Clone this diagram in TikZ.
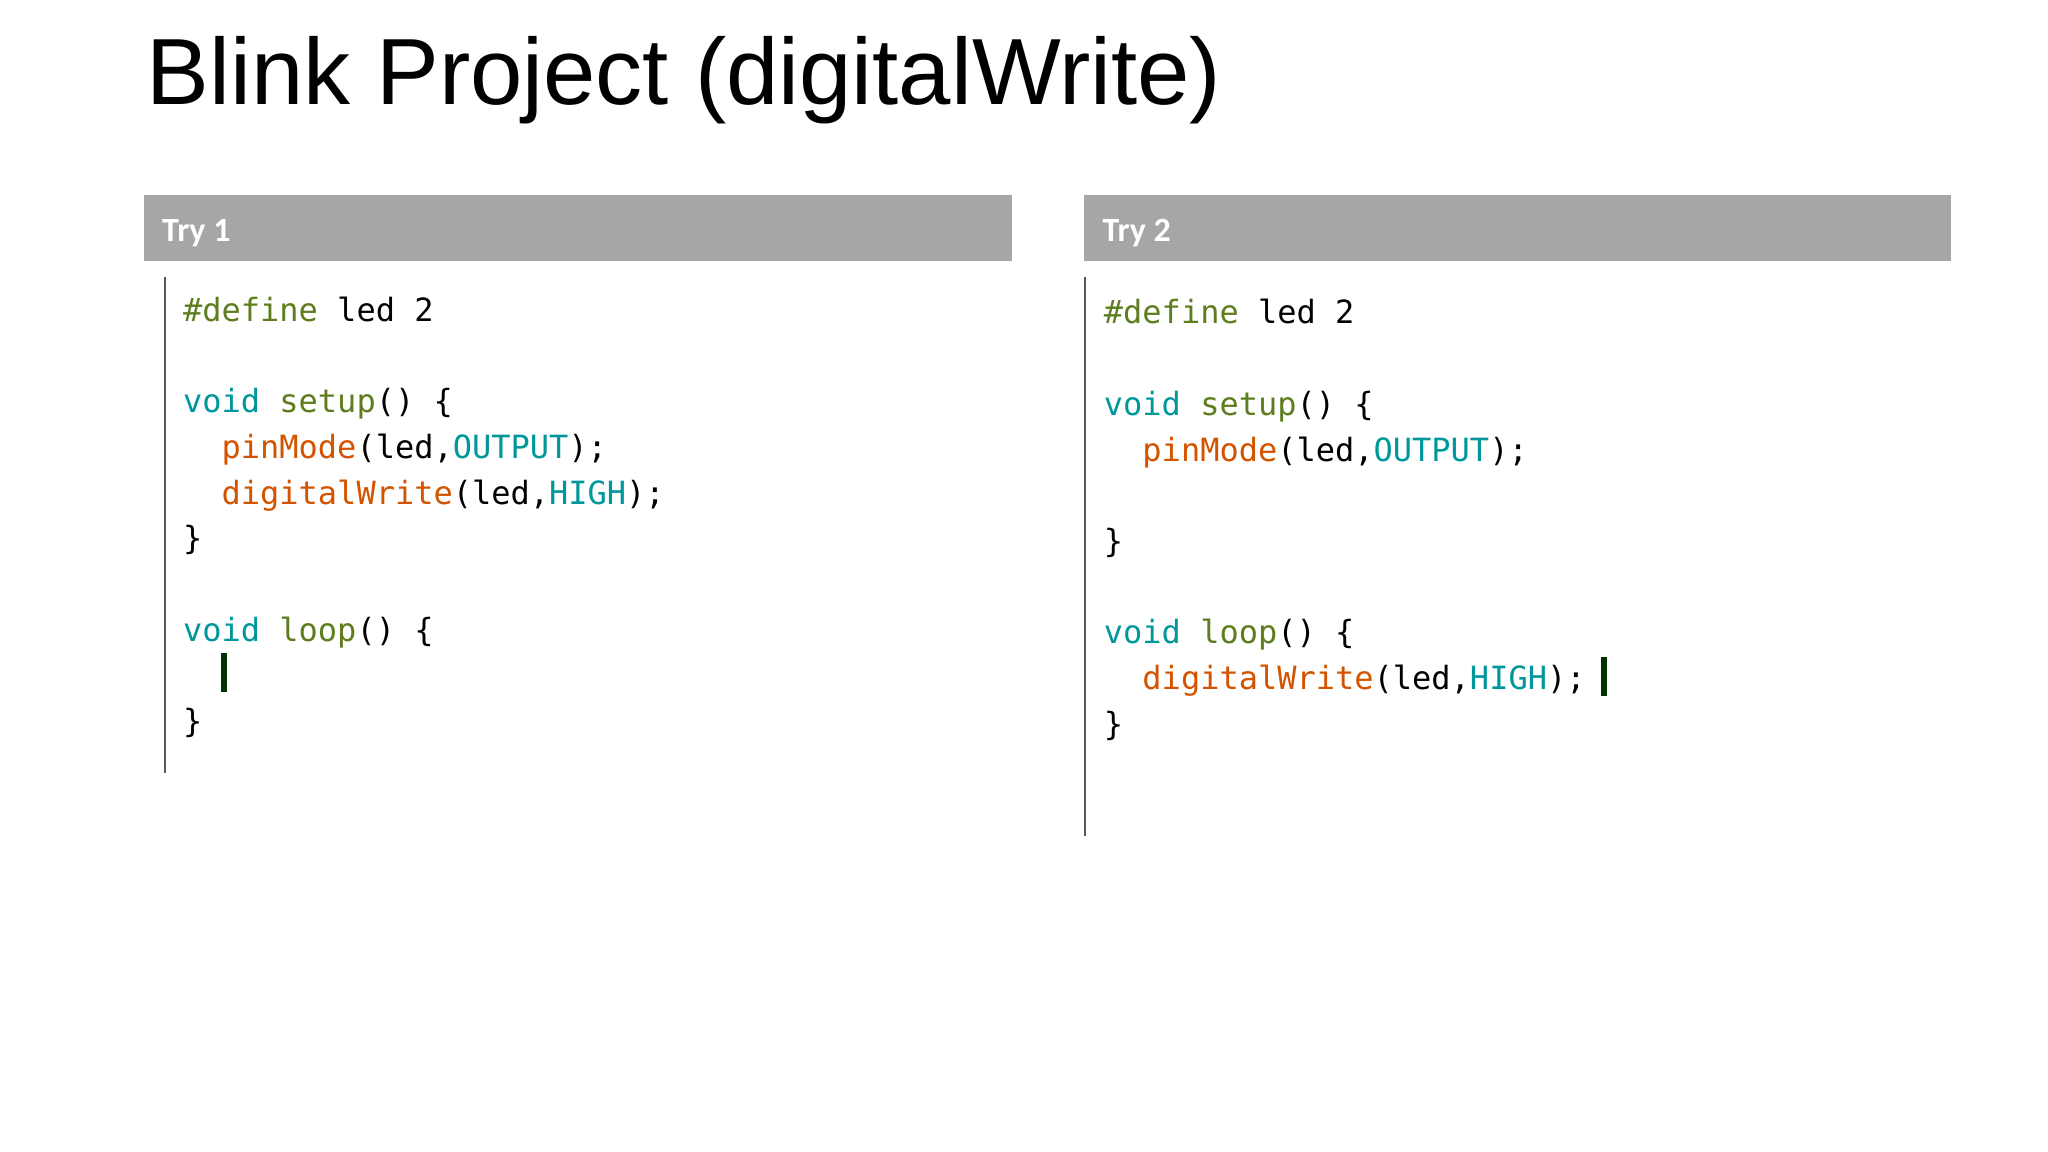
\documentclass[tikz,border=0pt]{standalone}
\usepackage{fontspec}
\setmainfont{Liberation Sans}
\newfontfamily\hdr{Carlito}
\newfontfamily\code{DejaVu Sans Mono}
\definecolor{kw}{HTML}{00979C}
\definecolor{fn}{HTML}{D35400}
\definecolor{gr}{HTML}{5E7D1E}
\definecolor{bar}{HTML}{A6A6A6}
\begin{document}
\begin{tikzpicture}[x=1pt,y=-1pt,
  cl/.style={anchor=base west,inner sep=0pt,font=\code\fontsize{24.5}{25}\selectfont},
  hd/.style={anchor=base west,inner sep=0pt,text=white,font=\hdr\bfseries\fontsize{26}{26}\selectfont}]
\useasboundingbox (0,0) rectangle (1568,882);
\node[anchor=base west,inner sep=0pt,font=\fontsize{72}{72}\selectfont] (title) at (112,80) {Blink Project (digitalWrite)};
% Try 1
\fill[bar] (110,149) rectangle (775,200);
\node[hd] (h1) at (124,185) {Try 1};
\draw[line width=1.5pt,gray!70!black] (126,212) -- (126,592);
\node[cl] (a1) at (140,246) {\textcolor{gr}{\#define} led 2};
\node[cl] (a2) at (140,316) {\textcolor{kw}{void} \textcolor{gr}{setup}() \{};
\node[cl] (a3) at (140,351) {\phantom{xx}\textcolor{fn}{pinMode}(led,\textcolor{kw}{OUTPUT});};
\node[cl] (a4) at (140,386) {\phantom{xx}\textcolor{fn}{digitalWrite}(led,\textcolor{kw}{HIGH});};
\node[cl] (a5) at (140,421) {\}};
\node[cl] (a6) at (140,491) {\textcolor{kw}{void} \textcolor{gr}{loop}() \{};
\node[cl] (a7) at (140,561) {\}};
\fill[black!80!green] (169,500) rectangle (174,530);
% Try 2
\fill[bar] (830,149) rectangle (1494,200);
\node[hd] (h2) at (844,185) {Try 2};
\draw[line width=1.5pt,gray!70!black] (831,212) -- (831,640);
\node[cl] (b1) at (845,248) {\textcolor{gr}{\#define} led 2};
\node[cl] (b2) at (845,318) {\textcolor{kw}{void} \textcolor{gr}{setup}() \{};
\node[cl] (b3) at (845,353) {\phantom{xx}\textcolor{fn}{pinMode}(led,\textcolor{kw}{OUTPUT});};
\node[cl] (b5) at (845,423) {\}};
\node[cl] (b6) at (845,493) {\textcolor{kw}{void} \textcolor{gr}{loop}() \{};
\node[cl] (b7) at (845,528) {\phantom{xx}\textcolor{fn}{digitalWrite}(led,\textcolor{kw}{HIGH});};
\node[cl] (b8) at (845,563) {\}};
\fill[black!80!green] (1226,503) rectangle (1230,533);
\end{tikzpicture}
\end{document}
